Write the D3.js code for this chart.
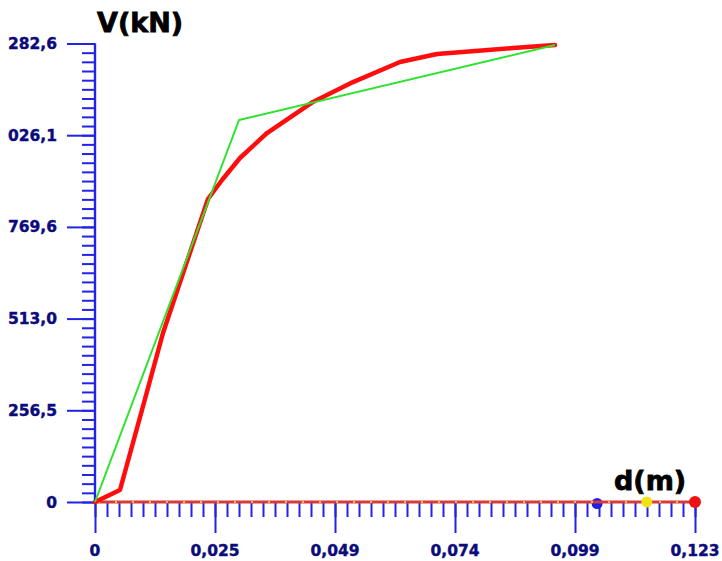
<!DOCTYPE html>
<html>
<head>
<meta charset="utf-8">
<script src="https://cdn.jsdelivr.net/npm/d3@7"></script>
<style>
  html, body { margin: 0; padding: 0; background: #ffffff; }
  svg { display: block; }
  text { font-family: "DejaVu Sans", Verdana, sans-serif; font-weight: bold; }
</style>
</head>
<body>
<svg id="chart" width="722" height="561"></svg>
<script>
// Displacement axis (m)
const dispTicks = [0, 0.02464, 0.04928, 0.07392, 0.09856, 0.1232];
const dispTickLabels = ["0", "0,025", "0,049", "0,074", "0,099", "0,123"];

// Base shear axis (kN)
const shearTicks = [0, 256.52, 513.04, 769.56, 1026.08, 1282.6];
const shearTickLabels = ["0", "256,5", "513,0", "769,6", "026,1", "282,6"];

// Capacity (pushover) curve
const pushoverDisp  = [0, 0.00513, 0.00965, 0.01396, 0.02320, 0.02608, 0.02977, 0.03532, 0.04476, 0.05298, 0.06263, 0.07023, 0.08583, 0.09445];
const pushoverShear = [0, 33.6, 257.3, 472.8, 847.6, 900.8, 962.3, 1032.2, 1119.0, 1174.6, 1230.9, 1253.2, 1270.0, 1278.4];

// Idealised bilinear curve
const bilinearDisp  = [0, 0.02957, 0.09445];
const bilinearShear = [0, 1068.6, 1278.4];

// Limit-state markers on the displacement axis
const markerDisp   = [0.1031, 0.1133, 0.1232];
const markerColors = ["#1f1fe8", "#f2e21a", "#ee1111"];
const markerRadius = [5.5, 5.5, 6];

const svg = d3.select("#chart");
const axisBlue = "#2323e6";
const labelBlue = "#0b0b7c";

const x = d3.scaleLinear().domain([0, 0.1232]).range([95, 695]);
const y = d3.scaleLinear().domain([0, 1282.6]).range([502, 43.5]);

const xMinor = d3.range(0, 51).map(i => i * 0.1232 / 50);
const yMinor = d3.range(0, 51).map(i => i * 1282.6 / 50);

// Y axis: minor ticks every tenth of a major step
const yAxisMinor = d3.axisLeft(y).tickValues(yMinor).tickSize(13).tickFormat("");
const gyMinor = svg.append("g").attr("transform", `translate(${x(0)},0)`).call(yAxisMinor);
const yAxisMajor = d3.axisLeft(y).tickValues(shearTicks).tickSize(28).tickFormat("");
const gyMajor = svg.append("g").attr("transform", `translate(${x(0)},0)`).call(yAxisMajor);

// X axis
const xAxisMinor = d3.axisBottom(x).tickValues(xMinor).tickSize(15).tickFormat("");
const gxMinor = svg.append("g").attr("transform", `translate(0,${y(0)})`).call(xAxisMinor);
const xAxisMajor = d3.axisBottom(x).tickValues(dispTicks).tickSize(31).tickFormat("");
const gxMajor = svg.append("g").attr("transform", `translate(0,${y(0)})`).call(xAxisMajor);

[gyMinor, gyMajor, gxMinor, gxMajor].forEach(g => {
  g.selectAll("path.domain").attr("stroke", axisBlue).attr("stroke-width", 2.2);
  g.selectAll(".tick line").attr("stroke", axisBlue).attr("stroke-width", 2);
});
gyMinor.select("path.domain").attr("d", `M0,${y(1282.6)}V${y(0)}`);
gyMajor.select("path.domain").attr("d", `M0,${y(1282.6)}V${y(0)}`);
gxMinor.select("path.domain").attr("d", `M${x(0)},0H${x(0.1232)}`);
gxMajor.select("path.domain").attr("d", `M${x(0)},0H${x(0.1232)}`);

// Tick labels
svg.append("g").selectAll("text").data(shearTicks).join("text")
  .attr("x", 57).attr("y", d => y(d) + 5.5)
  .attr("text-anchor", "end").attr("font-size", 15.5).attr("fill", labelBlue)
  .attr("stroke", labelBlue).attr("stroke-width", 0.4)
  .text((d, i) => shearTickLabels[i]);

svg.append("g").selectAll("text").data(dispTicks).join("text")
  .attr("x", d => x(d)).attr("y", 556)
  .attr("text-anchor", "middle").attr("font-size", 15.5).attr("fill", labelBlue)
  .attr("stroke", labelBlue).attr("stroke-width", 0.4)
  .text((d, i) => dispTickLabels[i]);

// Axis titles
svg.append("text").attr("x", 97).attr("y", 32).attr("font-size", 27).attr("fill", "#000")
  .attr("stroke", "#000").attr("stroke-width", 0.8).text("V(kN)");
svg.append("text").attr("x", 614).attr("y", 490).attr("font-size", 27).attr("fill", "#000")
  .attr("stroke", "#000").attr("stroke-width", 0.8).text("d(m)");

// First marker sits beneath the zero line
svg.append("circle").attr("cx", x(markerDisp[0])).attr("cy", y(0) + 1.5)
  .attr("r", markerRadius[0]).attr("fill", markerColors[0]);

// Zero-shear line along the displacement axis
const zeroLine = d3.line().x(d => x(d)).y(() => y(0));
svg.append("path").attr("d", zeroLine([0, 0.1232]))
  .attr("fill", "none").attr("stroke", "#d83a3a").attr("stroke-width", 3);
svg.append("path").attr("d", zeroLine([0, 0.1232]))
  .attr("fill", "none").attr("stroke", "#f4c040").attr("stroke-width", 2)
  .attr("stroke-dasharray", "2,15").attr("stroke-dashoffset", -20);

// Remaining markers
svg.append("g").selectAll("circle").data(markerDisp.slice(1)).join("circle")
  .attr("cx", d => x(d)).attr("cy", y(0))
  .attr("r", (d, i) => markerRadius[i + 1])
  .attr("fill", (d, i) => markerColors[i + 1]);

// Curves
const line = d3.line().x(d => x(d[0])).y(d => y(d[1]));
const pushover = pushoverDisp.map((d, i) => [d, pushoverShear[i]]);
const bilinear = bilinearDisp.map((d, i) => [d, bilinearShear[i]]);

svg.append("path").attr("d", line(pushover))
  .attr("fill", "none").attr("stroke", "#ff0d0d").attr("stroke-width", 4.5)
  .attr("stroke-linejoin", "round").attr("stroke-linecap", "round");
svg.append("path").attr("d", line(bilinear))
  .attr("fill", "none").attr("stroke", "#2ee22e").attr("stroke-width", 2)
  .attr("stroke-linejoin", "round");
</script>
</body>
</html>
